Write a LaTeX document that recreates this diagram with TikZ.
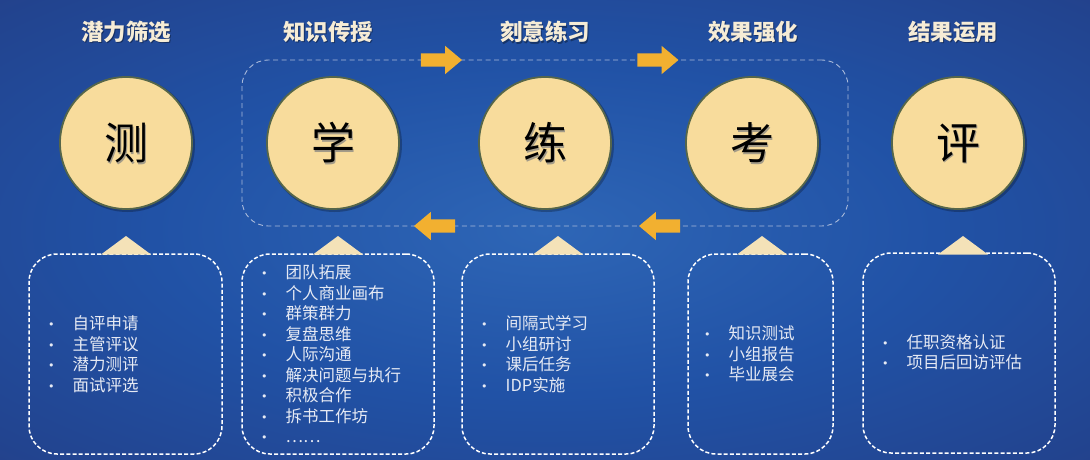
\documentclass[tikz,border=0pt]{standalone}
\usepackage{fontspec}
\setmainfont{Noto Sans CJK SC}
\newfontfamily\dejavu{DejaVu Sans}
\usetikzlibrary{shapes.arrows}
\definecolor{cream}{HTML}{F8DC9C}
\definecolor{tricol}{HTML}{F4E2B8}
\definecolor{rim}{HTML}{56664A}
\definecolor{arrowc}{HTML}{F2B030}
\definecolor{titlec}{HTML}{F6ECD6}
\definecolor{itemc}{HTML}{E6EAF4}
\definecolor{loopc}{HTML}{A9BADB}
\definecolor{bga}{HTML}{2E66B6}
\definecolor{bgb}{HTML}{2152A6}
\definecolor{bgc}{HTML}{233E86}
\definecolor{bgd}{HTML}{292D5E}
\pgfdeclareradialshading{bgshade}{\pgfpoint{0bp}{0bp}}{color(0bp)=(bga); color(18bp)=(bgb); color(40bp)=(bgc); color(64bp)=(bgd); color(75bp)=(bgd)}
\tikzset{
  circ/.style={circle, fill=cream, draw=rim, line width=1.8pt, minimum size=132pt, inner sep=0pt,
    font=\fontsize{44}{44}\selectfont, text=black},
  circshadow/.style={circle, fill=black, opacity=0.25, minimum size=135pt, inner sep=0pt},
  title/.style={font=\bfseries\fontsize{22.5}{22.5}\selectfont, text=titlec},
  titleshadow/.style={font=\bfseries\fontsize{22.5}{22.5}\selectfont, text=black, opacity=0.35},
  loopbox/.style={draw=loopc, line width=0.9pt, dash pattern=on 5pt off 3.5pt, rounded corners=26pt,
    minimum height=166pt, inner sep=0pt},
  itembox/.style={draw=white, line width=1.5pt, dash pattern=on 4pt off 2.2pt, rounded corners=28pt,
    minimum height=200pt, inner sep=0pt},
  rarrow/.style={single arrow, fill=arrowc, inner sep=6.5pt, minimum width=28pt, minimum height=41pt,
    single arrow head extend=7.5pt, single arrow tip angle=80},
  larrow/.style={rarrow, shape border rotate=180},
  tri/.style={fill=tricol},
  items/.style={anchor=west, align=left, text=itemc, font=\fontsize{16.5}{20.5}\selectfont, inner sep=0pt},
}
\newcommand{\itm}[1]{\makebox[24.5pt][l]{\raisebox{0.1ex}{\dejavu\fontsize{11}{11}\selectfont •}}#1}
\begin{document}
\begin{tikzpicture}[x=1pt,y=-1pt]
\useasboundingbox (0,0) rectangle (1090,460);
\shade[shading=bgshade] (0,0) rectangle (1090,460);

% titles
\foreach \x/\t [count=\i] in {126/潜力筛选,328/知识传授,545/刻意练习,753/效果强化,953/结果运用}{
  \node[titleshadow] at (\x+1.2,33.5) {\t};
  \node[title] (t\i) at (\x,32) {\t};
}

% loop box and arrows
\node[loopbox, minimum width=606pt] (loop) at (545,143) {};
\node[rarrow] (ar1) at (437.5,60) {};
\node[rarrow] (ar2) at (654,60) {};
\node[larrow] (al1) at (438.5,226) {};
\node[larrow] (al2) at (663.5,226) {};

% circles
\foreach \x/\t [count=\i] in {126/测,333/学,545/练,752/考,958/评}{
  \node[circshadow] at (\x+1.5,144.5) {};
  \node[circ] (c\i) at (\x,143) {};
  \node[font=\fontsize{44}{44}\selectfont, text=gray, opacity=0.7] at (\x+1.5,144.5) {\t};
  \node[font=\fontsize{44}{44}\selectfont, text=black] at (c\i) {\t};
}

% item boxes
\node[itembox, minimum width=193pt] (b1) at (125.5,354) {};
\node[itembox, minimum width=192pt] (b2) at (338,354) {};
\node[itembox, minimum width=192pt] (b3) at (558,354) {};
\node[itembox, minimum width=145pt] (b4) at (760.5,354) {};
\node[itembox, minimum width=192pt] (b5) at (959,353) {};

% triangles
\foreach \x in {126,338,558,762,963}{
  \fill[tri] (\x-25,254.5) -- (\x,236) -- (\x+25,254.5) -- cycle;
}

% item texts
\node[items] (i1) at (48,354) {\itm{自评申请}\\\itm{主管评议}\\\itm{潜力测评}\\\itm{面试评选}};
\node[items] (i2) at (261,354) {\itm{团队拓展}\\\itm{个人商业画布}\\\itm{群策群力}\\\itm{复盘思维}\\\itm{人际沟通}\\\itm{解决问题与执行}\\\itm{积极合作}\\\itm{拆书工作坊}\\\itm{……}};
\node[items] (i3) at (481,354) {\itm{间隔式学习}\\\itm{小组研讨}\\\itm{课后任务}\\\itm{IDP实施}};
\node[items] (i4) at (704,354) {\itm{知识测试}\\\itm{小组报告}\\\itm{毕业展会}};
\node[items] (i5) at (882,352) {\itm{任职资格认证}\\\itm{项目后回访评估}};
\end{tikzpicture}
\end{document}
